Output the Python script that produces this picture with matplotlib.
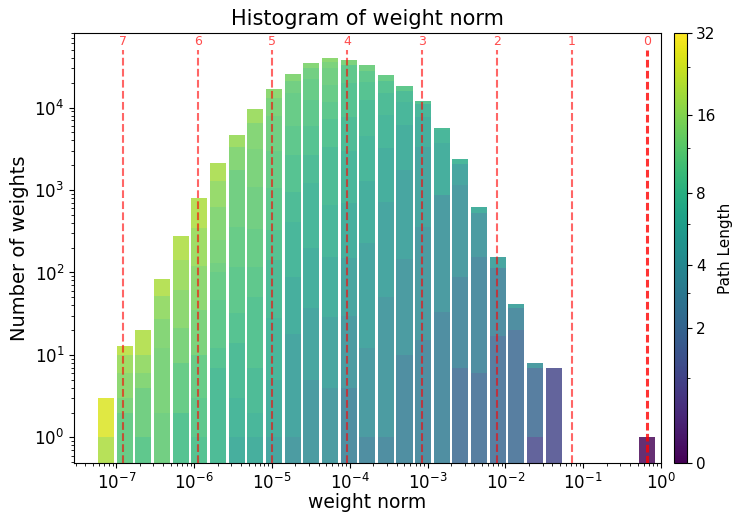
import numpy as np
import matplotlib
matplotlib.use("Agg")
import matplotlib.pyplot as plt
from matplotlib import colors, cm, ticker

# 30 log-spaced bins between the smallest and largest weight norm
w_min, w_max = 5.6e-8, 0.87
n_bins = 30

# non-empty bins, and per bin the path lengths (bottom to top) with their weight counts
bin_index = list(range(25)) + [29]
seg_lengths = [
    [20, 26],
    [11, 13, 15, 17, 21],
    [10, 12, 14, 16, 20],
    [12, 13, 14, 16, 20],
    [9, 11, 13, 15, 17, 20],
    [9, 10, 11, 13, 15, 17, 20],
    [8, 9, 10, 11, 12, 13, 14, 16, 19],
    [6, 7, 8, 9, 10, 11, 12, 14, 17],
    [6, 7, 8, 9, 10, 11, 12, 13, 14, 17],
    [5, 6, 7, 8, 9, 10, 11, 12, 13, 15],
    [4, 5, 6, 7, 8, 9, 10, 11, 12, 14],
    [4, 5, 6, 7, 8, 9, 10, 11, 12, 14],
    [4, 5, 6, 7, 8, 9, 10, 11, 12, 13, 15],
    [3, 4, 5, 6, 7, 8, 9, 10, 13],
    [3, 4, 5, 6, 7, 8, 9, 10, 12],
    [3, 4, 5, 6, 7, 8, 9, 11],
    [3, 4, 5, 6, 7, 8, 10],
    [3, 4, 5, 6, 7, 9],
    [3, 4, 6, 7, 8],
    [2, 3, 4, 5, 7],
    [2, 3, 4, 6],
    [2, 3, 5],
    [2, 3, 5],
    [1, 2, 4],
    [1],
    [0],
]
seg_counts = [
    [1, 2],
    [2, 1, 3, 4, 3],
    [1, 3, 2, 4, 10],
    [2, 10, 15, 25, 32],
    [2, 6, 13, 40, 79, 140],
    [1, 2, 7, 25, 85, 230, 450],
    [7, 5, 34, 54, 31, 115, 384, 670, 800],
    [1, 2, 11, 18, 85, 242, 1381, 1560, 1300],
    [1, 1, 5, 44, 65, 217, 767, 2000, 3400, 3000],
    [1, 4, 23, 113, 186, 723, 1950, 5000, 5000, 3600],
    [1, 17, 71, 325, 536, 1700, 3320, 8930, 6100, 4200],
    [5, 32, 159, 1004, 1450, 3320, 6330, 9700, 8000, 4400],
    [4, 25, 126, 505, 2690, 3890, 4460, 7000, 11300, 6000, 3500],
    [4, 26, 120, 550, 2300, 4700, 12300, 12700, 4600],
    [1, 11, 214, 1064, 3230, 7780, 8200, 7500, 4700],
    [1, 49, 670, 2480, 4900, 6800, 6100, 3800],
    [10, 134, 1606, 4410, 5540, 4300, 2200],
    [15, 344, 2991, 4350, 3300, 1000],
    [33, 837, 2810, 1620, 300],
    [7, 82, 1061, 890, 320],
    [6, 149, 376, 89],
    [17, 97, 39],
    [20, 17, 5],
    [1, 6, 1],
    [7],
    [1],
]

# reference norms marked with dashed lines
ref_labels = ["0", "1", "2", "3", "4", "5", "6", "7"]
ref_norms = [0.655, 0.0711, 7.76e-3, 8.5e-4, 9.25e-5, 1.0e-5, 1.12e-6, 1.22e-7]

fig = plt.figure(figsize=(7.37, 5.12), dpi=100)
ax = fig.add_axes([0.1004, 0.0957, 0.7965, 0.8398])
cax = fig.add_axes([0.9145, 0.0957, 0.017, 0.8398])

cmap = plt.get_cmap("viridis")
norm = colors.FuncNorm((lambda v: np.log2(1 + v), lambda v: 2 ** v - 1), vmin=0, vmax=32)

edges = np.log10(np.logspace(np.log10(w_min), np.log10(w_max), n_bins + 1))
gap = 0.07
for b, lens, cnts in zip(bin_index, seg_lengths, seg_counts):
    lo, hi = edges[b], edges[b + 1]
    d = hi - lo
    left = 10 ** (lo + gap * d)
    right = 10 ** (hi - gap * d)
    bottom = 0
    for L, c in zip(lens, cnts):
        ax.bar(left, c, width=right - left, bottom=bottom, align="edge",
               color=cmap(norm(L)), alpha=0.82, linewidth=0, zorder=2)
        bottom += c

ax.set_xscale("log")
ax.set_yscale("log")
ax.set_xlim(2.86e-8, 1.0)
ax.set_ylim(0.49, 8.0e4)

for lab, x in zip(ref_labels, ref_norms):
    if lab == "0":
        ax.vlines(x, 0.49, 5.0e4, colors="red", linestyles=(0, (2.5, 1.1)),
                  linewidth=2.2, alpha=0.8, zorder=3)
    else:
        ax.vlines(x, 0.49, 5.0e4, colors="red", linestyles="--",
                  linewidth=1.5, alpha=0.6, zorder=3)
    ax.text(x, 5.3e4, lab, color="red", alpha=0.7, fontsize=9,
            ha="center", va="bottom", zorder=4)

ax.xaxis.set_major_locator(ticker.FixedLocator(10.0 ** np.arange(-7, 1)))
ax.xaxis.set_minor_locator(ticker.LogLocator(base=10, subs=np.arange(2, 10), numticks=100))
ax.xaxis.set_minor_formatter(ticker.NullFormatter())
ax.yaxis.set_major_locator(ticker.FixedLocator(10.0 ** np.arange(0, 5)))
ax.yaxis.set_minor_locator(ticker.LogLocator(base=10, subs=np.arange(2, 10), numticks=100))
ax.yaxis.set_minor_formatter(ticker.NullFormatter())
ax.tick_params(axis="both", which="major", labelsize=12)

ax.set_title("Histogram of weight norm", fontsize=15)
ax.set_xlabel("weight norm", fontsize=13.5, labelpad=0)
ax.set_ylabel("Number of weights", fontsize=14)

sm = cm.ScalarMappable(norm=norm, cmap=cmap)
cbar = fig.colorbar(sm, cax=cax)
cbar.set_ticks([0, 2, 4, 8, 16, 32])
cbar.set_ticklabels(["0", "2", "4", "8", "16", "32"])
cbar.ax.yaxis.set_minor_locator(ticker.FixedLocator([1, 3, 6, 12, 24]))
cbar.ax.tick_params(labelsize=11)
cbar.set_label("Path Length", fontsize=11, labelpad=2)

fig.savefig("out.png", dpi=100)
